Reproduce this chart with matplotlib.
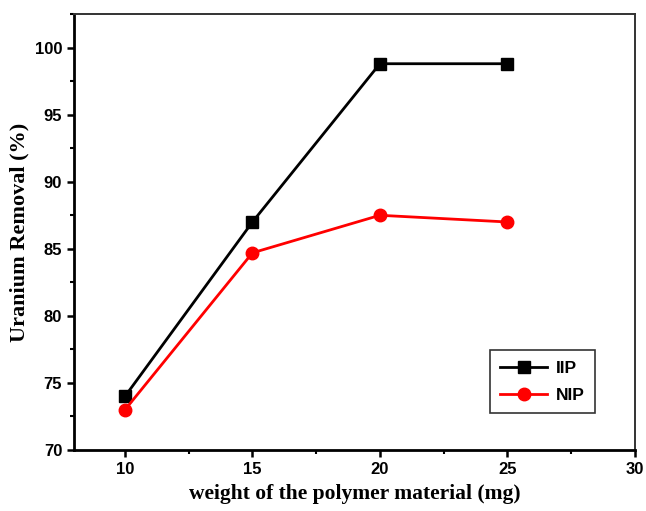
import matplotlib
matplotlib.use("Agg")
import matplotlib.pyplot as plt
from matplotlib.ticker import MultipleLocator

weight = [10, 15, 20, 25]
iip = [74.0, 87.0, 98.8, 98.8]
nip = [73.0, 84.7, 87.5, 87.0]

SANS = "Liberation Sans"
SERIF = "Liberation Serif"

fig = plt.figure(figsize=(6.46, 5.11), dpi=100)
ax = fig.add_axes([0.1146, 0.1194, 0.868, 0.853])

ax.plot(weight, iip, color="black", lw=2, marker="s", ms=8, label="IIP")
ax.plot(weight, nip, color="red", lw=2, marker="o", ms=9, label="NIP")

ax.set_xlim(8, 30)
ax.set_ylim(70, 102.5)
ax.xaxis.set_major_locator(MultipleLocator(5))
ax.xaxis.set_minor_locator(MultipleLocator(2.5))
ax.yaxis.set_major_locator(MultipleLocator(5))
ax.yaxis.set_minor_locator(MultipleLocator(2.5))
ax.set_xticks([10, 15, 20, 25, 30])
ax.tick_params(which="major", direction="out", length=5, width=1.8)
ax.tick_params(which="minor", direction="out", length=3, width=1.5)
for lab in ax.get_xticklabels() + ax.get_yticklabels():
    lab.set_fontfamily(SANS); lab.set_fontweight("bold"); lab.set_fontsize(12)

for s in ["left", "bottom"]:
    ax.spines[s].set_linewidth(2)
for s in ["top", "right"]:
    ax.spines[s].set_linewidth(1.4)
    ax.spines[s].set_color("#333333")

ax.set_xlabel("weight of the polymer material (mg)", fontfamily=SERIF, fontweight="bold", fontsize=15.5, labelpad=5)
ax.set_ylabel("Uranium Removal (%)", fontfamily=SERIF, fontweight="bold", fontsize=16, labelpad=4)

leg = ax.legend(loc="upper right", bbox_to_anchor=(0.929, 0.229), borderaxespad=0, fancybox=False,
                edgecolor="black", prop={"family": SANS, "weight": "bold", "size": 12.5},
                handlelength=2.7, borderpad=0.6, labelspacing=0.7, handletextpad=0.5)
leg.get_frame().set_linewidth(1.2)

fig.savefig("out.png", dpi=100)
